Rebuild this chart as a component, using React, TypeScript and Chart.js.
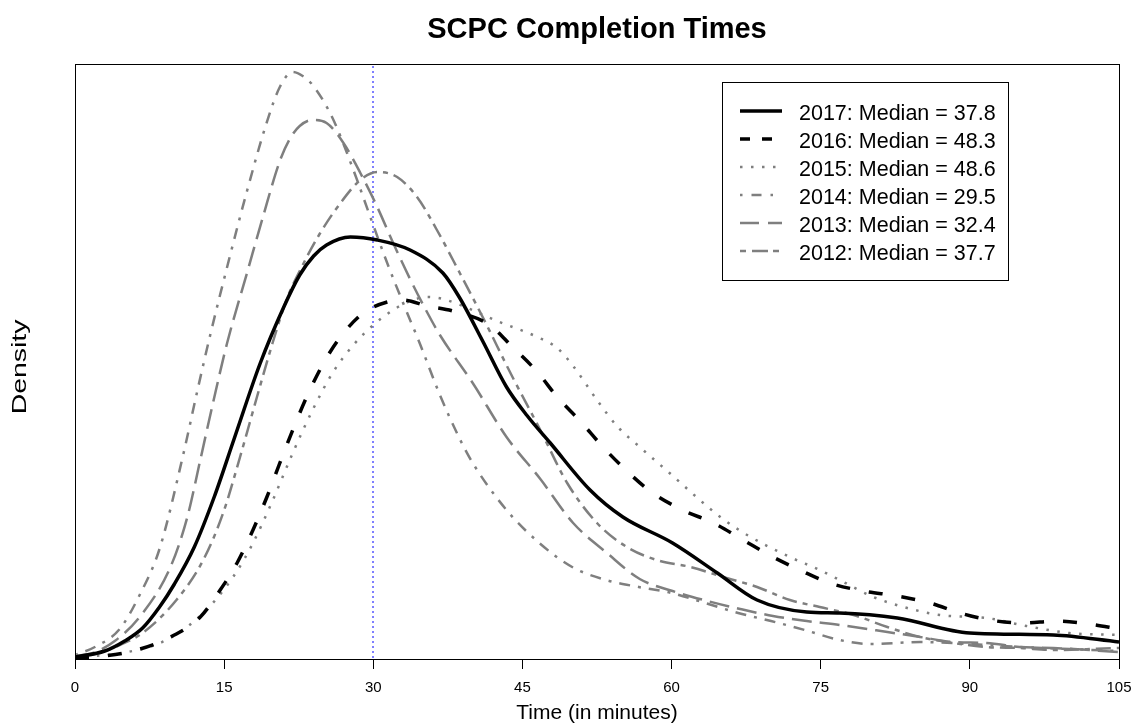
import { useEffect, useRef } from 'react';
import { Chart, registerables } from 'chart.js';

Chart.register(...registerables);

// ---- Data ----
const chartTitle = 'SCPC Completion Times';
const xAxisTitle = 'Time (in minutes)';
const yAxisTitle = 'Density';
const xTicks = [0, 15, 30, 45, 60, 75, 90, 105];
const refMinute = 30; // vertical dotted reference line

const years = ['2017', '2016', '2015', '2014', '2013', '2012'];
const medians = [37.8, 48.3, 48.6, 29.5, 32.4, 37.7];

const t2017 = [0, 3, 5, 6.8, 8.5, 10, 12, 14, 16, 18.6, 21, 22.6, 24, 25.3, 27.7, 30.4, 33.7, 37, 38.7, 41, 43.4, 45.5, 47.8, 51.8, 55.1, 60.1, 64.6, 68.6, 73.6, 76.9, 82.7, 90, 98.4, 105];
const d2017 = [0.0002, 0.0008, 0.0018, 0.0031, 0.0052, 0.0075, 0.0112, 0.0162, 0.0220, 0.0295, 0.0352, 0.0384, 0.0403, 0.0414, 0.0422, 0.0419, 0.0409, 0.0386, 0.0361, 0.0318, 0.0272, 0.0243, 0.0216, 0.0169, 0.0142, 0.0116, 0.0086, 0.0059, 0.0047, 0.0046, 0.0041, 0.0026, 0.0024, 0.0017];

const t2016 = [0, 3, 6.2, 9.6, 12.6, 14.6, 16.3, 17.9, 19.3, 20.6, 21.9, 23.3, 25, 26.7, 29, 31.4, 33, 35.4, 38, 41.7, 44, 46.5, 48.5, 50.8, 53.1, 55.5, 58.1, 61.1, 64.2, 67.2, 70.2, 72.9, 75.9, 79.3, 82.7, 86, 89, 92, 95.3, 98.8, 102, 105];
const d2016 = [0.0001, 0.0003, 0.0009, 0.0022, 0.0042, 0.0069, 0.0096, 0.0129, 0.0162, 0.0196, 0.0229, 0.0262, 0.0296, 0.0322, 0.0346, 0.0357, 0.0359, 0.0353, 0.0348, 0.0334, 0.0312, 0.0287, 0.0262, 0.0238, 0.0212, 0.0188, 0.0166, 0.0149, 0.0136, 0.0119, 0.0102, 0.0089, 0.0076, 0.0068, 0.0063, 0.0056, 0.0046, 0.0039, 0.0036, 0.0038, 0.0035, 0.0030];

const t2015 = [0, 2, 4.8, 9.2, 12.9, 15.9, 17.9, 19.9, 21.9, 23.9, 25.9, 28, 30, 32, 33.7, 35.5, 37, 42.7, 46.5, 48.5, 50.1, 52.5, 54.5, 56.8, 59.8, 62.5, 64.9, 67.6, 71.9, 74.9, 76.9, 80.3, 83.7, 87, 91.7, 95.7, 100, 105];
const d2015 = [0.0001, 0.0003, 0.0006, 0.0019, 0.0046, 0.0082, 0.0116, 0.0159, 0.0206, 0.0249, 0.0286, 0.0314, 0.0334, 0.0349, 0.0358, 0.0362, 0.0360, 0.0337, 0.0322, 0.0311, 0.0293, 0.0259, 0.0233, 0.0212, 0.0186, 0.0162, 0.0142, 0.0124, 0.0102, 0.0089, 0.0079, 0.0062, 0.0051, 0.0044, 0.0041, 0.0033, 0.0026, 0.0024];

const t2014 = [0, 2, 4.5, 6.5, 8.5, 10.9, 12.3, 13.6, 15.3, 17.3, 19.3, 20.6, 21.9, 22.9, 23.9, 25.9, 28, 29.7, 31.4, 33, 34.7, 36.7, 38.7, 40, 43.4, 46.7, 50, 53.4, 56.7, 60, 63.4, 66.7, 70, 73.4, 76.9, 80, 85, 90, 95, 100, 105];
const d2014 = [0.0004, 0.0012, 0.0030, 0.0064, 0.0110, 0.0205, 0.0268, 0.0324, 0.0392, 0.0468, 0.0537, 0.0572, 0.0587, 0.0583, 0.0574, 0.0541, 0.0489, 0.0442, 0.0396, 0.0356, 0.0315, 0.0264, 0.0220, 0.0196, 0.0149, 0.0116, 0.0092, 0.0079, 0.0072, 0.0066, 0.0056, 0.0046, 0.0038, 0.0029, 0.0019, 0.0015, 0.0017, 0.0015, 0.0012, 0.0010, 0.0008];

const t2013 = [0, 1.8, 4, 6.5, 9.6, 11.3, 12.6, 13.9, 15.3, 17.3, 18.9, 20.6, 21.6, 22.6, 23.9, 25.3, 27, 28.7, 30.4, 32, 33.7, 35.4, 36.7, 40, 43.4, 46.8, 50.1, 53.5, 56.8, 60.1, 63.6, 66.9, 70.2, 73.6, 76.9, 81.7, 85, 88.3, 91.7, 95, 98.4, 105];
const d2013 = [0.0003, 0.0006, 0.0018, 0.0042, 0.0092, 0.0142, 0.0199, 0.0257, 0.0316, 0.0386, 0.0442, 0.0498, 0.0520, 0.0533, 0.0539, 0.0536, 0.0516, 0.0486, 0.0452, 0.0416, 0.0380, 0.0347, 0.0324, 0.0276, 0.0222, 0.0180, 0.0136, 0.0106, 0.0080, 0.0068, 0.0058, 0.0050, 0.0043, 0.0038, 0.0034, 0.0027, 0.0022, 0.0017, 0.0016, 0.0012, 0.0011, 0.0007];

const t2012 = [0, 2.5, 4.5, 6.8, 10.2, 12.9, 14.9, 16.6, 18.3, 19.9, 21.3, 22.6, 24.6, 26.7, 28.7, 30.4, 32.4, 34.4, 36.4, 38.7, 41, 44, 46.8, 49.5, 52.5, 55.5, 58.5, 61.9, 65.2, 68.6, 71.9, 74.9, 78.3, 81.7, 85, 88.3, 91.7, 95, 98.4, 105];
const d2012 = [0.0002, 0.0006, 0.0014, 0.0026, 0.0059, 0.0099, 0.0146, 0.0202, 0.0262, 0.0317, 0.0360, 0.0388, 0.0425, 0.0456, 0.0479, 0.0487, 0.0482, 0.0462, 0.0429, 0.0386, 0.0342, 0.0282, 0.0229, 0.0176, 0.0136, 0.0112, 0.0099, 0.0092, 0.0082, 0.0072, 0.0059, 0.0052, 0.0044, 0.0032, 0.0022, 0.0016, 0.0012, 0.0011, 0.0009, 0.0011];

const yMax = 0.0595;

// ---- Styles ----
const GRAY = '#7f7f7f';
const FONT = "'Liberation Sans', Arial, Helvetica, sans-serif";
const seriesTimes = [t2017, t2016, t2015, t2014, t2013, t2012];
const seriesDens = [d2017, d2016, d2015, d2014, d2013, d2012];
const styles = [
  { color: '#000000', width: 3.5, dash: [] as number[], legendDash: [] as number[] },
  { color: '#000000', width: 3.5, dash: [14, 19], legendDash: [10, 12] },
  { color: GRAY, width: 2.5, dash: [2.5, 8.5], legendDash: [2.5, 8.5] },
  { color: GRAY, width: 2.5, dash: [3, 8, 11, 8], legendDash: [2.5, 9, 10, 9] },
  { color: GRAY, width: 2.5, dash: [20, 8], legendDash: [19, 9] },
  { color: GRAY, width: 2.5, dash: [5, 6, 15, 6], legendDash: [6, 6, 16, 5] },
];

const legendLabels = years.map((y, i) => `${y}: Median = ${medians[i]}`);

const datasets = years.map((y, i) => ({
  label: legendLabels[i],
  data: seriesTimes[i].map((t, j) => ({ x: t, y: seriesDens[i][j] })),
  borderColor: styles[i].color,
  borderWidth: styles[i].width,
  borderDash: styles[i].dash,
  borderCapStyle: 'butt' as const,
  pointRadius: 0,
  fill: false,
  cubicInterpolationMode: 'monotone' as const,
}));

const decorPlugin = {
  id: 'decor',
  beforeDatasetsDraw(chart: any) {
    const { ctx, chartArea, scales } = chart;
    const x = Math.round(scales.x.getPixelForValue(refMinute));
    ctx.save();
    ctx.strokeStyle = '#0000ff';
    ctx.lineWidth = 1;
    ctx.setLineDash([2, 3]);
    ctx.beginPath();
    ctx.moveTo(x, chartArea.top + 2);
    ctx.lineTo(x, chartArea.bottom);
    ctx.stroke();
    ctx.restore();
  },
  afterDraw(chart: any) {
    const { ctx, chartArea } = chart;
    const { left, right, top, bottom } = chartArea;
    ctx.save();
    // plot box
    ctx.strokeStyle = '#000';
    ctx.lineWidth = 1;
    ctx.setLineDash([]);
    ctx.strokeRect(left + 0.5, top + 0.5, right - left, bottom - top);

    // title
    ctx.fillStyle = '#000';
    ctx.font = `bold 29px ${FONT}`;
    ctx.textAlign = 'center';
    ctx.textBaseline = 'alphabetic';
    ctx.fillText(chartTitle, (left + right) / 2, 38);

    // y axis title (stretched along text direction like the reference)
    ctx.save();
    ctx.translate(20, 367);
    ctx.rotate(-Math.PI / 2);
    ctx.scale(1.42, 1);
    ctx.font = `20px ${FONT}`;
    ctx.textAlign = 'center';
    ctx.textBaseline = 'middle';
    ctx.fillText(yAxisTitle, 0, 0);
    ctx.restore();

    // legend
    const bx = 722, by = 82, bw = 286, bh = 198;
    ctx.fillStyle = '#fff';
    ctx.fillRect(bx, by, bw, bh);
    ctx.strokeStyle = '#000';
    ctx.lineWidth = 1;
    ctx.strokeRect(bx + 0.5, by + 0.5, bw, bh);
    legendLabels.forEach((lab, i) => {
      const cy = 112 + 28 * i;
      const st = styles[i];
      ctx.beginPath();
      ctx.strokeStyle = st.color;
      ctx.lineWidth = st.width;
      ctx.lineCap = 'butt';
      ctx.setLineDash(st.legendDash);
      ctx.moveTo(740, cy - 1);
      ctx.lineTo(782, cy - 1);
      ctx.stroke();
      ctx.setLineDash([]);
      ctx.fillStyle = '#000';
      ctx.font = `21.5px ${FONT}`;
      ctx.textAlign = 'left';
      ctx.textBaseline = 'alphabetic';
      ctx.fillText(lab, 799, cy + 7.5);
    });
    ctx.restore();
  },
};

export default function App() {
  const ref = useRef<HTMLCanvasElement | null>(null);
  useEffect(() => {
    document.body.style.margin = '0';
    if (!ref.current) return;
    const chart = new Chart(ref.current, {
      type: 'line',
      data: { datasets },
      options: {
        responsive: false,
        animation: false,
        devicePixelRatio: 1,
        layout: { padding: { left: 75, right: 14, top: 64, bottom: 0 } },
        plugins: {
          legend: { display: false },
          title: { display: false },
          tooltip: { enabled: false },
        },
        scales: {
          x: {
            type: 'linear',
            min: 0,
            max: 105,
            afterBuildTicks: (scale: any) => {
              scale.ticks = xTicks.map((v) => ({ value: v }));
            },
            afterFit: (scale: any) => {
              scale.height = 66;
              scale.paddingLeft = 0;
              scale.paddingRight = 0;
            },
            ticks: {
              color: '#000',
              font: { family: FONT, size: 15 },
              padding: 10,
              maxRotation: 0,
              autoSkip: false,
            },
            grid: {
              display: true,
              drawOnChartArea: false,
              drawTicks: true,
              tickLength: 10,
              color: '#000',
              lineWidth: 1,
            },
            border: { display: false },
            title: {
              display: true,
              text: xAxisTitle,
              color: '#000',
              font: { family: FONT, size: 21, lineHeight: 1.1 },
              padding: { top: 0, bottom: 0 },
            },
          },
          y: {
            type: 'linear',
            display: false,
            min: 0,
            max: yMax,
          },
        },
      },
      plugins: [decorPlugin],
    } as any);
    return () => chart.destroy();
  }, []);
  return (
    <canvas
      ref={ref}
      width={1133}
      height={725}
      style={{ display: 'block', width: 1133, height: 725 }}
    />
  );
}
